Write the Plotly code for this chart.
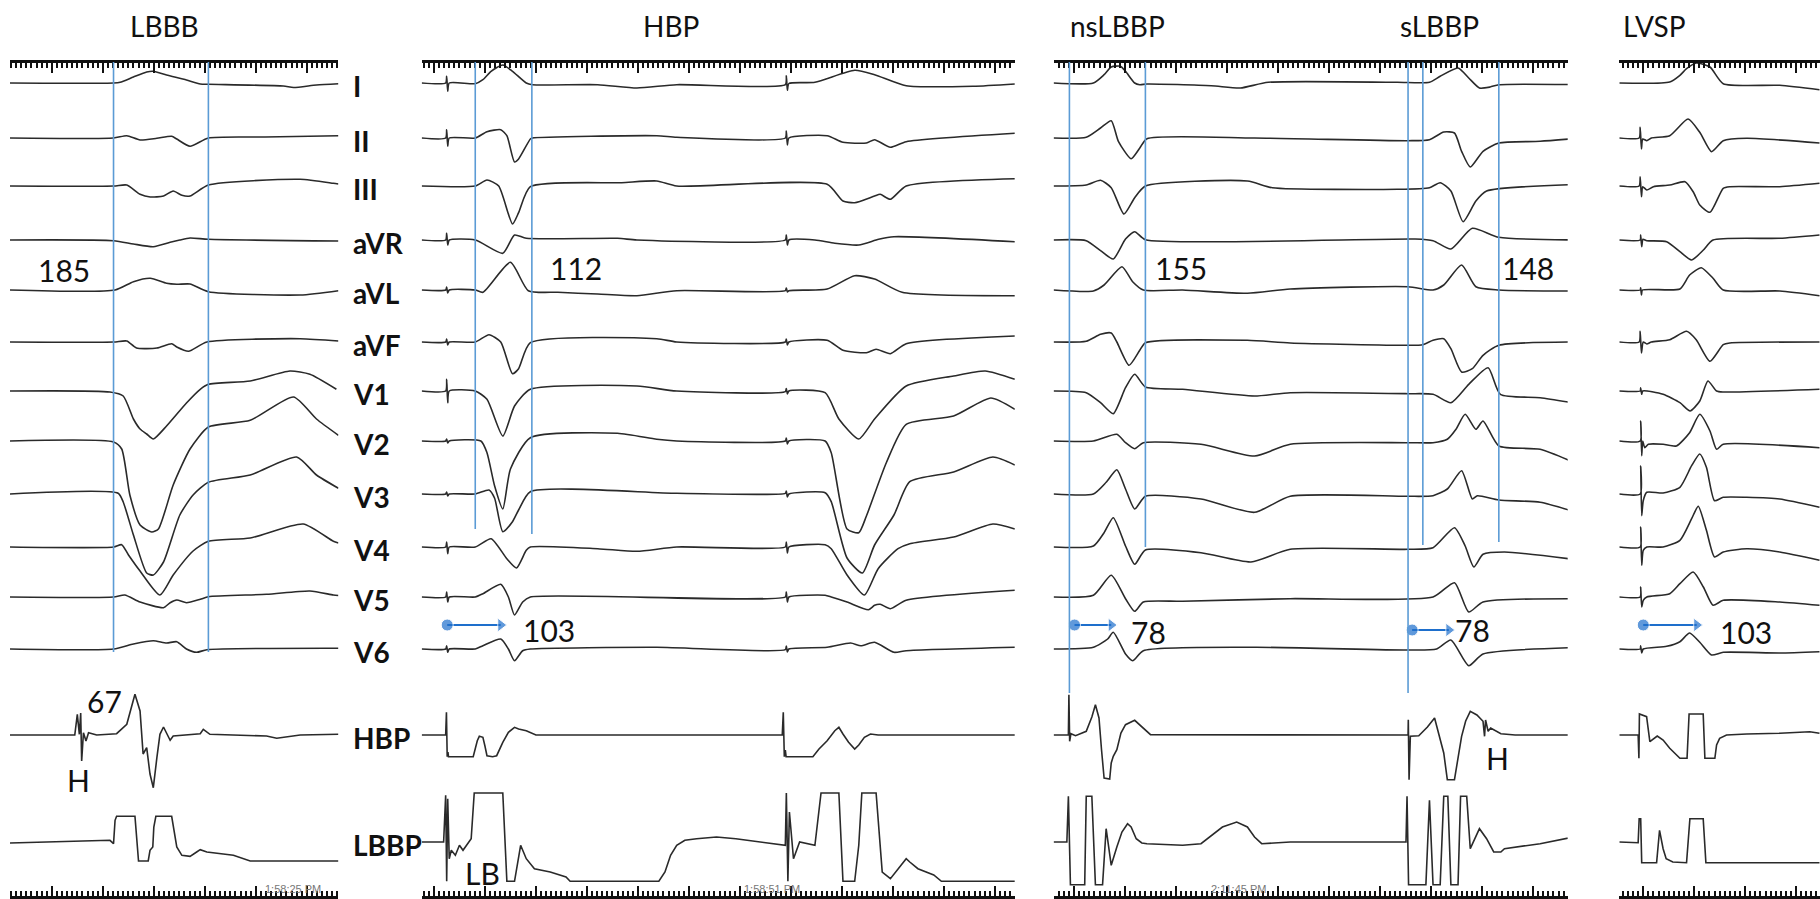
import plotly.graph_objects as go

# ---------------- data: (time ms from panel start, amplitude px up) ----------------
LEADS = ["I", "II", "III", "aVR", "aVL", "aVF", "V1", "V2", "V3", "V4", "V5", "V6", "HBP", "LBBP"]
PANEL_NAMES = ["LBBB", "HBP", "nsLBBP", "sLBBP", "LVSP"]

# ---- Panel 1: LBBB ----
LBBB_I = [(0,0),(203,0),(216,0.7),(242,6),(268,11),(281,11.7),(307,8),(346,3),(373,-1),(389,-1.3),(536,-3),(556,-4.5),(601,-2),(644,-0.7)]
LBBB_II = [(0,0),(203,0),(229,2.3),(255,-2),(288,-0.3),(317,1.7),(327,-1),(353,-8.3),(389,0),(500,1),(644,2.3)]
LBBB_III = [(0,0),(203,0),(229,1),(255,-8.3),(275,-11),(301,-10),(320,-5),(337,-9.3),(353,-10),(389,1),(569,6.7),(634,2.7),(644,2)]
LBBB_aVR = [(0,0),(203,-0.7),(242,-4),(281,-6.7),(314,-2.3),(333,0),(353,2),(389,0.7),(644,-1)]
LBBB_aVL = [(0,0),(206,0),(242,8.3),(275,11.7),(307,6.7),(327,5.7),(353,6),(389,-1.7),(569,-5),(644,-0.7)]
LBBB_aVF = [(0,0),(203,0),(229,1),(248,-6),(288,-6),(317,-1.7),(327,-5),(350,-9.3),(386,0),(569,3.3),(644,1)]
LBBB_V1 = [(0,0),(196,-1),(222,-5),(242,-28),(255,-38),(268,-43),(281,-48),(307,-35),(346,-12),(373,1.7),(389,6.7),(471,10),(549,20),(588,16.7),(640,1.7)]
LBBB_V2 = [(0,0),(203,-1),(219,-8),(235,-54),(255,-84),(278,-91),(291,-88),(320,-44),(353,-8),(389,14),(471,20.7),(556,44),(601,22),(644,5.7)]
LBBB_V3 = [(0,0),(212,0.7),(222,-8),(242,-41),(268,-79),(281,-81),(301,-68),(333,-21),(359,-1),(389,11.7),(471,19),(562,37),(601,19),(644,5.7)]
LBBB_V4 = [(0,0),(203,0),(219,2.3),(232,-7.7),(255,-24),(294,-48),(320,-28),(359,-4),(389,5.7),(471,9),(575,23),(634,5.7),(644,4)]
LBBB_V5 = [(0,0),(203,0),(225,2),(255,-5),(301,-10.7),(314,-5.7),(327,-3),(346,-5.7),(373,-2.3),(389,0.3),(503,2.7),(588,6),(634,2),(644,1.5)]
LBBB_V6 = [(0,0),(203,0),(242,5),(281,8.3),(307,6),(327,7.3),(346,0),(366,-3.3),(386,-0.7),(644,0.7)]
LBBB_HBP = [(0,0),(127,0),(132,20.7),(136,0.7),(138.6,22),(140.5,-26),(144,2.3),(149,-6),(154,2.3),(170,0),(209,1.3),(229,10.7),(245,40.7),(255,24),(261,-19),(268,-12.7),(274.5,-39),(281,-52.7),(288,-22.7),(294,0.7),(301,8),(307,2.3),(314,-5.3),(320,-1),(373,1.3),(379,5.7),(392,0.7),(503,-1),(523,-3.3),(569,0),(644,0.7)]
LBBB_LBBP = [(0,-1),(196,1.7),(203,-1.7),(206,21.7),(209,25.7),(245,25.7),(252,-19),(271,-19),(274.5,-8.3),(280,-5),(282,15),(286,25.7),(317,25.7),(327,-5),(337,-13.3),(353,-14.3),(366,-10),(373,-7.7),(386,-10),(412,-11.7),(438,-13.3),(471,-19),(644,-19)]

# ---- Panel 2: HBP ----
HBP_I = [(0,0),(47,0),(49,6.7),(51,-8.3),(54,0),(105,-0.7),(120,3.3),(136,11.7),(159,18),(178,11.7),(205,0),(217,-1.7),(345,-1.7),(422,-5),(500,-1.7),(713,-1.7),(715,7.3),(717,-7.3),(720,-0.5),(771,0.7),(849,12.7),(888,8.3),(950,-2.7),(1081,-3.3),(1163,-1)]
HBP_II = [(0,0),(47,0),(49,8.3),(51,-8.3),(54,0),(105,0),(128,6.3),(155,8.3),(167,2.3),(182,-24),(190,-21),(213,-1),(217,0),(461,2.3),(500,0.7),(713,0),(715,7),(717,-7),(720,0),(795,2.3),(826,-4.3),(872,-5),(888,-1.7),(919,-9.3),(950,-3.7),(1163,4.7)]
HBP_III = [(0,0),(105,0),(128,6),(151,0),(178,-38),(190,-26.7),(213,-0.7),(392,3.3),(461,5),(500,0),(795,1.7),(826,-15),(849,-16.7),(888,-10),(899,-8.3),(919,-13.3),(950,0),(1163,7.3)]
HBP_aVR = [(0,0),(47,0),(49,6.7),(51,-5),(54,0),(105,0),(159,-13.3),(182,5),(205,1.7),(384,1.7),(422,0),(713,0),(715,5),(717,-5),(720,0),(771,0),(810,-3.3),(857,-5),(896,0.7),(926,3.3),(1163,-1.7)]
HBP_aVL = [(0,0),(47,0),(49,3),(51,-3),(54,0),(105,0),(120,-2.3),(174,27.7),(209,-0.7),(267,-2.3),(345,-4),(422,-5.7),(500,-0.7),(713,-0.7),(715,2),(717,-2),(720,-0.7),(795,1),(849,14.3),(888,11),(942,-2.3),(1163,-5.7)]
HBP_aVF = [(0,0),(47,0),(49,3),(51,-3),(54,0),(105,0),(132,7.3),(155,0),(178,-31.7),(190,-26.7),(213,-0.7),(461,3.3),(500,0),(713,0),(715,3),(717,-3),(720,0),(795,1.7),(826,-8.3),(872,-10.7),(891,-7.3),(919,-11.7),(950,-1.7),(1163,6)]
HBP_V1 = [(0,0),(47,0),(49,11.7),(51,-11.7),(54,0),(105,0),(128,-8.3),(159,-45),(182,-15),(213,1.7),(422,5),(500,0),(713,-0.7),(715,2.5),(717,-3),(720,0),(791,-1.7),(818,-28),(857,-48),(888,-28),(950,5),(1043,15),(1105,20),(1163,11.7)]
HBP_V2 = [(0,0),(47,0),(49,2),(51,-2),(54,0),(116,0),(128,-11.7),(143,-45),(159,-68),(174,-28),(213,3.3),(384,7.7),(461,1.7),(500,0),(713,0),(715,3),(717,-3),(720,0),(791,0),(803,-11.7),(834,-88),(857,-91.7),(872,-75),(911,-21.7),(950,16.7),(1043,25),(1116,43),(1163,31.7)]
HBP_V3 = [(0,0),(47,0),(49,2),(51,-2),(54,0),(105,0),(132,4),(143,-4.3),(159,-37.7),(178,-27.7),(190,-16),(213,2.3),(500,0.7),(713,0.7),(715,3),(717,-3),(720,0),(791,1.3),(803,-7.7),(834,-64),(864,-79),(888,-51),(926,-21),(957,12.3),(1043,22),(1120,37),(1163,29)]
HBP_V4 = [(0,0),(47,0),(49,5),(51,-6.7),(54,0),(105,0),(136,8.3),(167,-11.7),(186,-21),(205,-3.3),(213,0),(345,-1.7),(422,-4.3),(500,0),(713,0),(715,5),(717,-6),(720,0),(791,2.3),(803,-1.7),(834,-28),(868,-48),(895,-21.7),(934,-1.7),(957,3.3),(1043,10),(1120,23),(1163,18)]
HBP_V5 = [(0,0),(47,0),(49,5),(51,-5),(54,0),(105,0),(120,3.3),(155,12.7),(170,0),(182,-18),(198,-5),(213,0),(713,0),(715,5),(717,-5),(720,0),(791,1.7),(803,0),(834,-5),(876,-12.7),(888,-8.3),(899,-7.3),(919,-11.7),(950,-3.3),(1163,6.7)]
HBP_V6 = [(0,0),(47,0),(49,3.3),(51,-3.3),(54,0),(105,0),(120,3.3),(155,10),(170,0),(182,-11.7),(198,-1.7),(213,0),(461,1.7),(713,-0.7),(715,3),(717,-3),(720,0),(795,1.7),(841,6),(861,3.3),(888,6.7),(926,-3.3),(950,-1.7),(1163,1.7)]
HBP_HBP = [(0,0),(47,0),(48.5,22.7),(50,-21.7),(51.5,-17),(52.5,-21.7),(101,-21.7),(109,-5.7),(113,-1.3),(120,-2.3),(124,-11),(128,-20.7),(139,-21.7),(147,-20.7),(159,-7.3),(170,2.7),(182,7.7),(190,6),(205,4.3),(224,0),(707,0),(709,22.7),(711,-21.7),(713,-15),(714.5,-21.7),(767,-21.7),(779,-14),(795,-5.7),(810,4.3),(818,7.7),(826,1),(837,-7.3),(849,-14),(857,-10),(868,-2.3),(880,1),(895,0),(1163,0)]
HBP_LBBP = [(0,0),(43,0),(47,46.7),(49,-39.3),(51,43.3),(54,-16.7),(58,-8.3),(66,-13.3),(74,-3.3),(81,-8.3),(97,3.3),(103,49),(159,49),(167,-39.3),(182,-39.3),(194,-3.3),(205,-16.7),(221,-26.7),(252,-30),(283,-35),(291,-39.3),(465,-39.3),(477,-30),(488,-13.3),(500,-3.3),(516,1.7),(539,3.3),(578,5),(616,3.3),(655,0.7),(702,-2.3),(713,-3.3),(715,49),(718,-39.3),(721,30),(729,-16.7),(741,0),(771,-3.3),(783,49),(818,49),(826,-39.3),(849,-39.3),(857,-3.3),(863,49),(891,49),(903,-30),(919,-36.7),(950,-16.7),(957,-20),(973,-26.7),(1004,-33),(1019,-39.3),(1163,-39.3)]

# ---- Panel 3: nsLBBP + sLBBP ----
LBBP_I = [(0,0),(78,0),(99,8.3),(113,16),(131,16.7),(141,11.7),(159,0),(169,-1.7),(183,-1),(309,-2.7),(366,-5),(421,0.7),(674,0.7),(737,0.7),(758,6.7),(793,15),(814,5),(835,-5),(856,-4),(873,-1.7),(1036,-1.7)]
LBBP_II = [(0,0),(64,0.7),(92,10),(113,17.3),(127,-3.3),(152,-20.7),(169,-10),(183,-0.7),(394,0),(695,-2.7),(737,-1.7),(765,6),(786,5),(800,-13.3),(817,-29),(842,-13.3),(873,-5),(954,-3.3),(1036,0)]
LBBP_III = [(0,0),(64,1),(92,5.7),(113,-1.7),(138,-28),(159,-11.7),(180,0),(380,5),(429,-1.7),(674,-3.3),(737,-1.7),(758,3.3),(779,-5),(803,-35.7),(828,-15),(849,-5),(1036,1.7)]
LBBP_aVR = [(0,0),(64,-0.7),(92,-10.7),(117,-19),(141,1),(159,8.3),(180,0.3),(709,1),(744,-0.7),(779,-9),(821,11.7),(873,2.7),(1036,0)]
LBBP_aVL = [(0,0),(78,-1),(99,5),(134,23.3),(155,8.3),(176,0),(253,0),(380,-3.3),(464,1),(695,3.3),(744,0),(765,5),(800,25),(828,3.3),(873,0),(1036,-1)]
LBBP_aVF = [(0,0),(64,0.7),(92,7.7),(113,9),(124,0),(148,-23.3),(169,-8.3),(180,-0.7),(380,1.7),(464,-1),(695,-3.3),(724,-2.7),(744,1.7),(765,3.3),(779,-6.7),(800,-30),(821,-26.7),(842,-13.3),(873,-3.3),(1036,0)]
LBBP_V1 = [(0,0),(64,-1.7),(92,-11.7),(117,-22.7),(141,3.3),(159,16.7),(180,4),(253,1.7),(394,-5),(464,-1.7),(695,-2.7),(744,-3.3),(779,-11.7),(814,6.7),(852,23.3),(876,-3.3),(954,-6.7),(1036,-13.3)]
LBBP_V2 = [(0,0),(78,0),(124,6.7),(141,-1.7),(159,-7.7),(176,-1.7),(289,-3.3),(394,-15),(464,-3.3),(695,-1.7),(744,-1.7),(772,1.7),(789,11.7),(807,26.7),(828,11.7),(842,20),(873,-5),(954,-8.3),(1036,-25)]
LBBP_V3 = [(0,0),(78,0),(103,11.7),(124,24.3),(141,5),(159,-15),(180,-2.3),(289,-5),(394,-18.3),(464,-2.3),(695,-2.3),(744,-1.7),(772,5),(800,23.3),(821,-5),(831,-1.7),(873,-6),(954,-8.3),(1036,-20)]
LBBP_V4 = [(0,0),(78,1),(99,14.3),(117,29.3),(141,1),(159,-17.3),(180,-3),(289,-5.7),(387,-15),(464,-2.3),(695,-2.3),(744,-0.7),(786,19.3),(807,1),(824,-20),(842,-7.3),(884,-5),(1036,-13.3)]
LBBP_V5 = [(0,0),(78,1.7),(113,21.7),(141,-1.7),(159,-14.3),(176,-5),(253,-4.3),(464,-1.7),(744,0),(786,14.3),(814,-15),(842,-5),(1036,-1.7)]
LBBP_V6 = [(0,0),(78,1.7),(106,10),(117,16.7),(141,-5),(155,-11.7),(176,-1.7),(394,1.7),(695,-1),(751,0),(779,9),(814,-16.7),(842,-5),(1036,1.7)]
LBBP_HBP = [(0,0),(29,0),(30,40.3),(31.5,-6.3),(34,1.3),(43,-0.7),(64,3.7),(75,18),(82,30.3),(89,17),(94,-15),(99,-43),(110,-44),(113,-28),(117,-21.3),(124,-14.7),(132,2),(141,10.3),(159,14.7),(176,7),(190,0.3),(695,0),(695.5,15.3),(697,-44.7),(699.5,-1.3),(716,-0.7),(733,8),(747,17),(756,0),(765,-18),(772,-44.7),(786,-44.7),(800,-1.3),(808,14),(817,23.7),(830,20),(842,13.7),(845,-1.3),(847,15),(852,3.7),(857,7),(877,1.3),(905,0),(1036,0)]
LBBP_LBBP = [(0,0),(26,0),(29,45.7),(33,-42.7),(40,-42.7),(61,-42.7),(64,45.7),(75,45.7),(82,-42.7),(96,-42.7),(103,13.3),(113,-23.3),(124,-5),(134,10),(145,18.3),(152,15),(162,3.3),(173,-1),(183,-1.7),(253,-3.3),(289,-1.7),(310,6.7),(331,15),(359,20),(380,15),(394,5),(408,-1.7),(464,0),(691,0),(693,45.7),(696,-42.7),(730,-42.7),(737,41.7),(744,-42.7),(758,-42.7),(765,45.7),(773,45.7),(779,-42.7),(793,-42.7),(798,45.7),(810,45.7),(817,-6.7),(835,13.3),(849,3.3),(863,-10),(877,-10),(884,-6.7),(954,-1.7),(1036,6.7)]

# ---- Panel 4: LVSP ----
LVSP_I = [(0,0),(99,1),(119,7.7),(132,14.3),(151,20),(178,16),(204,-0.7),(315,-2.3),(393,-6.7)]
LVSP_II = [(0,0),(39,0),(41,10.7),(43.5,-11),(46,-1),(54,-2.7),(63,0),(99,2.3),(135,19),(158,5.7),(181,-13.7),(204,-2.7),(250,-0.3),(393,-5)]
LVSP_III = [(0,0),(39,0),(41,9.3),(43.5,-10.7),(46,-0.7),(54,-4),(67,-0.7),(99,1),(129,4.3),(145,-5.7),(158,-19),(178,-26.3),(204,-2.3),(217,-0.7),(315,-0.7),(393,2.7)]
LVSP_aVR = [(0,0),(41,0),(42,5),(44,-6.7),(46.5,0.7),(54,-0.7),(93,-1.7),(119,-11.7),(142,-20),(165,-10),(184,0),(315,1.7),(393,5)]
LVSP_aVL = [(0,0),(41,0),(42,2.3),(43.5,-5),(45.5,0),(119,1),(138,15),(161,22.3),(184,11.7),(204,0),(315,-1),(393,-5.7)]
LVSP_aVF = [(0,0),(39,0),(41,10.7),(43.5,-11),(47,0),(54,-2),(63,0),(99,2.3),(132,10.7),(151,2.3),(178,-19.3),(204,-2.7),(217,-1),(393,0)]
LVSP_V1 = [(0,0),(41,0),(42,3.3),(44,-3.3),(46,0),(86,-3.3),(119,-11.7),(139,-20),(158,-10),(174,10),(191,0),(204,-1),(393,1.7)]
LVSP_V2 = [(0,0),(41,0),(42,20),(44,-14.7),(46,0),(50,-6.7),(57,-3.3),(86,-3.3),(112,-5),(138,8.3),(158,26.7),(178,10),(191,-8.3),(204,-3.3),(393,-6.7)]
LVSP_V3 = [(0,0),(41,0),(42,28),(44,-21.7),(47,-6.7),(54,1.7),(86,1),(119,6.7),(142,28.3),(158,40),(171,26.7),(187,-6.7),(204,-3.3),(250,-3.3),(315,-5),(393,-13.3)]
LVSP_V4 = [(0,0),(41,0),(42,20),(44,-18.3),(47,-3.3),(54,0),(86,0),(119,6.7),(142,28.3),(155,40.7),(171,16.7),(187,-10),(204,-5),(250,-1.7),(315,-5),(393,-13.3)]
LVSP_V5 = [(0,0),(41,0),(42,10),(44,-10),(47,-3.3),(54,0),(99,3.3),(119,13.3),(145,25),(165,10),(184,-8.3),(204,-3.3),(315,-5),(393,-8.3)]
LVSP_V6 = [(0,0),(41,0),(42,3.3),(44,-4),(47,0),(93,2.7),(119,7.3),(138,16),(158,6.7),(181,-6),(204,-3.3),(315,-4),(393,-2.7)]
LVSP_HBP = [(0,0),(37,0),(38.5,-23.3),(39.5,21),(53.6,18.3),(60,-6.7),(74.5,-1),(86,-5),(99,-13.3),(112,-20),(119,-23.3),(133,-23.3),(137,21),(164.7,21),(168,-23.3),(187.6,-23.3),(191,-10),(197,-3.3),(210.5,0),(250,1),(315,1.7),(374,3.3),(393,1.7)]
LVSP_LBBP = [(0,0),(37,-0.7),(39,23.3),(42,23.3),(44,-20.7),(73.2,-20.7),(79,11.7),(86,-6.7),(92,-16.7),(105,-20),(132,-20.7),(138.6,23.3),(164.7,23.3),(170,-20.7),(393,-20.7)]

# interval markers (ms) and measured values
LBBB_MARKS = [203, 389]
HBP_MARKS = [105, 216]
LBBP_MARKS = [31, 180, 695, 724, 873]
QRS_LABELS = ["185", "112", "155", "148"]
ARROW_LABELS = ["103", "78", "78", "103"]
ARROWS = [(1, 50, 155), (2, 41, 113), (2, 703, 775), (3, 47, 152)]  # (panel, start ms, end ms)
TIMESTAMPS = ["1:58:25 PM", "1:58:51 PM", "2:11:45 PM"]

# ---------------- layout constants ----------------
W, H = 1820, 899
PX_PER_MS = 0.51
BASE_Y = [83, 138, 186, 240, 290, 342, 391, 441, 494, 547, 597, 649, 735, 842]
TOP_RULER_Y, BOT_RULER_Y = 61, 897
PANELS = [
    dict(x0=10, dur=644, tick0=82, data=[LBBB_I, LBBB_II, LBBB_III, LBBB_aVR, LBBB_aVL, LBBB_aVF, LBBB_V1, LBBB_V2, LBBB_V3, LBBB_V4, LBBB_V5, LBBB_V6, LBBB_HBP, LBBB_LBBP]),
    dict(x0=421.7, dur=1163, tick0=24, data=[HBP_I, HBP_II, HBP_III, HBP_aVR, HBP_aVL, HBP_aVF, HBP_V1, HBP_V2, HBP_V3, HBP_V4, HBP_V5, HBP_V6, HBP_HBP, HBP_LBBP]),
    dict(x0=1053.6, dur=1008, tick0=40, data=[LBBP_I, LBBP_II, LBBP_III, LBBP_aVR, LBBP_aVL, LBBP_aVF, LBBP_V1, LBBP_V2, LBBP_V3, LBBP_V4, LBBP_V5, LBBP_V6, LBBP_HBP, LBBP_LBBP]),
    dict(x0=1619.3, dur=394, tick0=47, data=[LVSP_I, LVSP_II, LVSP_III, LVSP_aVR, LVSP_aVL, LVSP_aVF, LVSP_V1, LVSP_V2, LVSP_V3, LVSP_V4, LVSP_V5, LVSP_V6, LVSP_HBP, LVSP_LBBP]),
]
TRACE_COLOR = "#2a2a2a"
BLUE_LINE = "#5b9bd5"
BLUE_ARROW = "#1e6fcc"
FONT = "Lato, 'Open Sans', sans-serif"

fig = go.Figure()

for pi, p in enumerate(PANELS):
    xa = "x" if pi == 0 else f"x{pi + 1}"
    for li, lead in enumerate(LEADS):
        pts = p["data"][li]
        xs = [t for t, _ in pts]
        ys = [BASE_Y[li] - a for _, a in pts]
        ecg = li < 12
        fig.add_trace(go.Scatter(
            x=xs, y=ys, xaxis=xa, yaxis="y", mode="lines",
            line=dict(color=TRACE_COLOR, width=1.6,
                      shape="spline" if ecg else "linear",
                      smoothing=0.6 if ecg else 0),
            hoverinfo="skip", showlegend=False))
    # placeholder trace so that the bottom ruler (overlaying axis) gets drawn
    fig.add_trace(go.Scatter(x=[None], y=[None], xaxis=f"x{pi + 5}", yaxis="y",
                             mode="lines", hoverinfo="skip", showlegend=False))

# blue interval lines
marks = [
    (0, LBBB_MARKS[0], 652), (0, LBBB_MARKS[1], 652),
    (1, HBP_MARKS[0], 529), (1, HBP_MARKS[1], 534),
    (2, LBBP_MARKS[0], 693), (2, LBBP_MARKS[1], 547),
    (2, LBBP_MARKS[2], 693), (2, LBBP_MARKS[3], 545), (2, LBBP_MARKS[4], 542),
]
for pi, t, yb in marks:
    xa = "x" if pi == 0 else f"x{pi + 1}"
    fig.add_shape(type="line", xref=xa, yref="y", x0=t, x1=t, y0=TOP_RULER_Y + 1, y1=yb,
                  line=dict(color=BLUE_LINE, width=1.6), layer="above")

# arrows
arrow_y = [625, 625, 630, 625]
for (pi, t0, t1), yy in zip(ARROWS, arrow_y):
    xa = f"x{pi + 1}"
    fig.add_trace(go.Scatter(
        x=[t0, t1], y=[yy, yy], xaxis=xa, yaxis="y", mode="lines+markers",
        line=dict(color=BLUE_ARROW, width=1.8),
        marker=dict(symbol=["circle", "triangle-right"], size=[12, 12], color=BLUE_ARROW),
        hoverinfo="skip", showlegend=False))

# axes (rulers)
layout_axes = {}
for pi, p in enumerate(PANELS):
    d0 = p["x0"] / W
    d1 = min(1.0, (p["x0"] + p["dur"] * PX_PER_MS) / W)
    common = dict(range=[0, p["dur"]], showline=True, linecolor="#111", linewidth=2.5,
                  ticks="inside", ticklen=10, tickwidth=2.2, tickcolor="#111",
                  tick0=p["tick0"], dtick=100, showticklabels=False, showgrid=False,
                  zeroline=False, fixedrange=True, anchor="free",
                  minor=dict(ticks="inside", ticklen=5, tickwidth=1.8, tickcolor="#111",
                             tick0=p["tick0"], dtick=10, showgrid=False))
    name = "xaxis" if pi == 0 else f"xaxis{pi + 1}"
    layout_axes[name] = dict(domain=[d0, d1], side="top", position=1 - TOP_RULER_Y / H, **common)
    layout_axes[f"xaxis{pi + 5}"] = dict(overlaying="x" if pi == 0 else f"x{pi + 1}",
                                         side="bottom", position=(H - BOT_RULER_Y) / H, **common)

annotations = []
for name, xc in zip(PANEL_NAMES, [164, 671, 1117, 1439, 1654]):
    annotations.append(dict(text=name, xref="paper", x=xc / W, yref="y", y=26,
                            showarrow=False, xanchor="center", yanchor="middle",
                            font=dict(family=FONT, size=28, color="#111")))
for li, lead in enumerate(LEADS):
    annotations.append(dict(text=lead, xref="paper", x=351 / W, yref="y", y=BASE_Y[li] + 3,
                            showarrow=False, xanchor="left", yanchor="middle",
                            font=dict(family=FONT, size=28, color="#111", weight="bold")))
num_pos = [(0, 105, 270, QRS_LABELS[0]), (1, 303, 268, QRS_LABELS[1]), (2, 250, 268, QRS_LABELS[2]),
           (2, 930, 268, QRS_LABELS[3]), (1, 250, 630, ARROW_LABELS[0]), (2, 187, 632, ARROW_LABELS[1]),
           (2, 822, 630, ARROW_LABELS[2]), (3, 248, 632, ARROW_LABELS[3]),
           (0, 186, 701, "67"), (0, 134, 780, "H"), (2, 870, 758, "H"), (1, 120, 873, "LB")]
for pi, t, yy, txt in num_pos:
    xa = "x" if pi == 0 else f"x{pi + 1}"
    annotations.append(dict(text=txt, xref=xa, x=t, yref="y", y=yy, showarrow=False,
                            xanchor="center", yanchor="middle",
                            font=dict(family=FONT, size=30, color="#111")))
for pi, t, txt in [(0, 555, TIMESTAMPS[0]), (1, 687, TIMESTAMPS[1]), (2, 362, TIMESTAMPS[2])]:
    xa = "x" if pi == 0 else f"x{pi + 1}"
    annotations.append(dict(text=txt, xref=xa, x=t, yref="y", y=889, showarrow=False,
                            xanchor="center", yanchor="middle",
                            font=dict(family="Liberation Sans, Arial, sans-serif", size=11, color="#777")))

fig.update_layout(
    width=W, height=H, margin=dict(l=0, r=0, t=0, b=0),
    paper_bgcolor="white", plot_bgcolor="rgba(0,0,0,0)", showlegend=False,
    yaxis=dict(domain=[0, 1], range=[H, 0], visible=False, fixedrange=True, anchor="x"),
    annotations=annotations,
    **layout_axes,
)

fig.write_html("out.html")
